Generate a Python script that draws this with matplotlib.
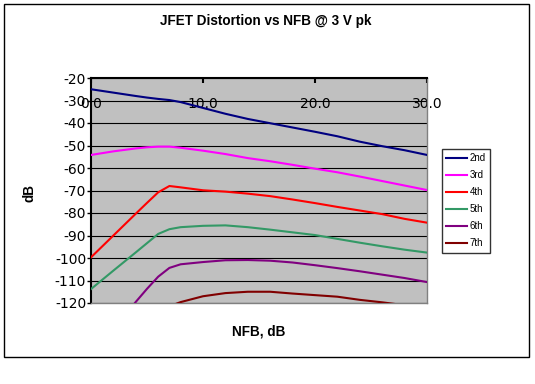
import matplotlib
matplotlib.use("Agg")
import matplotlib.pyplot as plt
from matplotlib.patches import Rectangle

# ---- data ----
nfb = [0, 2, 4, 5, 6, 7, 8, 10, 12, 14, 16, 18, 20, 22, 24, 26, 28, 30]
h2 = [-25.0, -26.5, -28.0, -28.7, -29.3, -29.8, -30.7, -33.3, -35.9, -38.2, -40.1, -42.0, -43.9, -45.9, -48.3, -50.3, -52.1, -54.2]
h3 = [-54.2, -52.6, -51.3, -50.8, -50.5, -50.5, -51.0, -52.3, -53.8, -55.6, -57.0, -58.6, -60.3, -61.9, -63.8, -65.8, -67.8, -69.8]
h4 = [-99.7, -90.0, -80.3, -75.5, -70.8, -68.0, -68.6, -69.9, -70.5, -71.4, -72.5, -74.0, -75.6, -77.3, -78.9, -80.5, -82.6, -84.3]
h5 = [-113.8, -105.6, -97.5, -93.4, -89.3, -87.2, -86.3, -85.7, -85.5, -86.3, -87.4, -88.6, -89.8, -91.5, -93.2, -94.8, -96.3, -97.6]
h6 = [-144.0, -132.0, -119.5, -113.7, -108.3, -104.4, -102.8, -101.8, -101.0, -100.9, -101.2, -102.0, -103.2, -104.5, -105.9, -107.4, -108.9, -110.7]
h7 = [-150.0, -142.0, -134.0, -129.0, -125.0, -121.5, -119.6, -117.0, -115.6, -115.0, -115.0, -115.8, -116.5, -117.2, -118.6, -119.7, -121.0, -122.5]
series_names = ["2nd", "3rd", "4th", "5th", "6th", "7th"]
series_colors = ["#000080", "#FF00FF", "#FF0000", "#339966", "#800080", "#800000"]
x_ticks = [0, 10, 20, 30]
x_tick_labels = ["0.0", "10.0", "20.0", "30.0"]
y_ticks = [-120, -110, -100, -90, -80, -70, -60, -50, -40, -30, -20]

plt.rcParams['axes.unicode_minus'] = False

W, H = 535, 384
fig = plt.figure(figsize=(W / 100, H / 100), dpi=100)
fig.patch.set_facecolor("white")

# outer chart border
fig.patches.append(Rectangle((4 / W, 1 - 357 / H), 525 / W, 353 / H,
                             transform=fig.transFigure, fill=False,
                             edgecolor="black", linewidth=1.0))

ax = fig.add_axes([91 / W, 1 - 303 / H, 336 / W, 225 / H])
ax.set_facecolor("#C0C0C0")

for vals, name, col in zip([h2, h3, h4, h5, h6, h7], series_names, series_colors):
    ax.plot(nfb, vals, color=col, linewidth=1.5, label=name, zorder=3)

ax.set_xlim(0, 30)
ax.set_ylim(-120, -20)
ax.set_yticks(y_ticks)
ax.set_yticklabels([str(v) for v in y_ticks], fontfamily="DejaVu Sans", fontsize=10)
ax.set_xticks(x_ticks)
ax.set_xticklabels(x_tick_labels, fontfamily="DejaVu Sans", fontsize=10)
ax.yaxis.grid(True, color="black", linewidth=0.8, zorder=1)
ax.set_axisbelow(True)

ax.tick_params(axis="y", direction="out", length=3, width=1, pad=0.5, colors="black")
ax.tick_params(axis="x", top=True, bottom=False, labeltop=True, labelbottom=False,
               direction="in", length=3.5, width=1.5, pad=-24)

for s in ["left", "top"]:
    ax.spines[s].set_color("black")
    ax.spines[s].set_linewidth(1.5)
for s in ["right", "bottom"]:
    ax.spines[s].set_color("#808080")
    ax.spines[s].set_linewidth(1.0)

# titles / axis labels
fig.text(266 / W, 1 - 25 / H, "JFET Distortion vs NFB @ 3 V pk", ha="center", va="baseline",
         fontfamily="Liberation Sans", fontweight="bold", fontsize=9.75)
fig.text(258.5 / W, 1 - 335 / H, "NFB, dB", ha="center", va="baseline",
         fontfamily="Liberation Sans", fontweight="bold", fontsize=9.75)
fig.text(30 / W, 1 - 193 / H, "dB", ha="center", va="center", rotation=90,
         fontfamily="Liberation Sans", fontweight="bold", fontsize=9.75)

leg = fig.legend(loc="upper left", bbox_to_anchor=(442 / W, 1 - 149 / H),
                 bbox_transform=fig.transFigure, borderaxespad=0,
                 prop={"family": "Liberation Sans", "size": 7},
                 handlelength=2.1, handletextpad=0.3, labelspacing=0.72,
                 borderpad=0.45, frameon=True, fancybox=False)
leg.get_frame().set_edgecolor("black")
leg.get_frame().set_linewidth(1.0)
leg.get_frame().set_facecolor("white")

fig.savefig("out.png", dpi=100)
